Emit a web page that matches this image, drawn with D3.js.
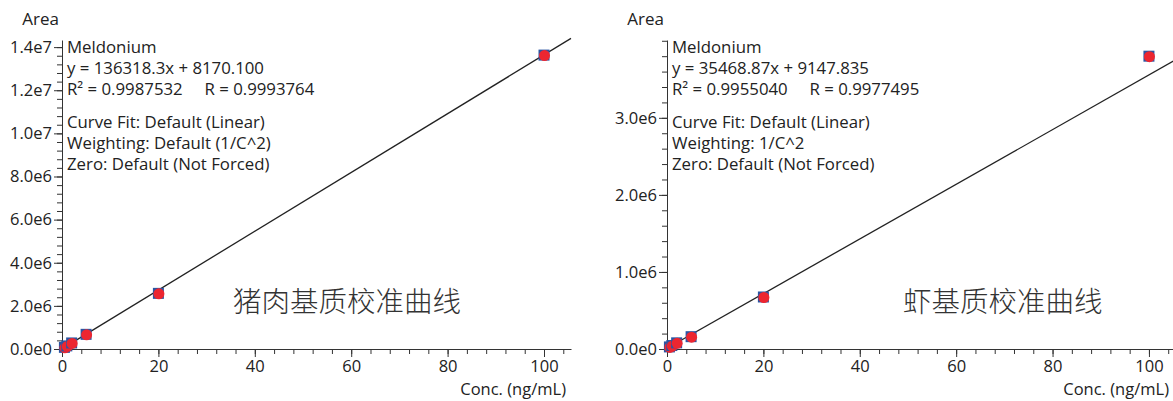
<!DOCTYPE html>
<html>
<head>
<meta charset="utf-8">
<script src="https://cdn.jsdelivr.net/npm/d3@7"></script>
<style>
  body { margin: 0; background: #fff; }
  svg { display: block; }
  .axis path, .axis line { stroke: #333; }
  .axis text { font-family: "Segoe UI", "Open Sans", sans-serif; font-size: 16.5px; fill: #222; }
</style>
</head>
<body>
<div id="chart"></div>
<script>
// calibration levels (ng/mL) and peak areas
const concLevels = [0.5, 1, 2, 5, 20, 100]
const porkArea = [76000, 144000, 281000, 680000, 2580000, 13630000]
const shrimpArea = [27000, 45000, 80000, 160000, 675000, 3800000]

// fitted lines: slope, intercept
const porkFit = [136318.3, 8170.100]
const shrimpFit = [35468.87, 9147.835]

// axis ticks
const xTicks = [0, 20, 40, 60, 80, 100]
const porkYTicks = [0, 2e6, 4e6, 6e6, 8e6, 1e7, 1.2e7, 1.4e7]
const porkYLabels = ["0.0e0", "2.0e6", "4.0e6", "6.0e6", "8.0e6", "1.0e7", "1.2e7", "1.4e7"]
const shrimpYTicks = [0, 1e6, 2e6, 3e6]
const shrimpYLabels = ["0.0e0", "1.0e6", "2.0e6", "3.0e6"]

// annotation text
const porkNotes = ["Meldonium", "y = 136318.3x + 8170.100", "R\u00b2 = 0.9987532     R = 0.9993764",
  "Curve Fit: Default (Linear)", "Weighting: Default (1/C^2)", "Zero: Default (Not Forced)"]
const shrimpNotes = ["Meldonium", "y = 35468.87x + 9147.835", "R\u00b2 = 0.9955040     R = 0.9977495",
  "Curve Fit: Default (Linear)", "Weighting: 1/C^2", "Zero: Default (Not Forced)"]

const width = 1173
const height = 401

const svg = d3.select("#chart")
  .append("svg")
  .attr("width", width)
  .attr("height", height)

function drawPanel(opt) {
  const g = svg.append("g")

  const x = d3.scaleLinear().domain([0, opt.xMax]).range([opt.left, opt.right])
  const y = d3.scaleLinear().domain([0, opt.yMax]).range([349, 40])

  // minor ticks first
  g.append("g").attr("class", "axis")
    .attr("transform", "translate(0,349)")
    .call(d3.axisBottom(x).tickValues(d3.range(0, opt.xMax, 4)).tickSize(5).tickFormat("").tickSizeOuter(0))
  g.append("g").attr("class", "axis")
    .attr("transform", "translate(" + opt.left + ",0)")
    .call(d3.axisLeft(y).tickValues(d3.range(0, opt.yMax + 1, opt.yMinor)).tickSize(5).tickFormat("").tickSizeOuter(0))

  // major ticks with labels
  g.append("g").attr("class", "axis")
    .attr("transform", "translate(0,349)")
    .call(d3.axisBottom(x).tickValues(xTicks).tickSize(8).tickPadding(3).tickSizeOuter(0))
    .select(".domain").remove()
  g.append("g").attr("class", "axis")
    .attr("transform", "translate(" + opt.left + ",0)")
    .call(d3.axisLeft(y).tickValues(opt.yTicks).tickSize(8).tickPadding(2)
      .tickFormat((d, i) => opt.yLabels[i]).tickSizeOuter(0))
    .select(".domain").remove()

  // axis titles
  g.append("text")
    .attr("x", opt.left - 3).attr("y", 25)
    .attr("text-anchor", "end")
    .attr("font-family", "'Segoe UI', 'Open Sans', sans-serif")
    .attr("font-size", 17).attr("fill", "#222")
    .text("Area")
  g.append("text")
    .attr("x", opt.right - 5).attr("y", 395)
    .attr("text-anchor", "end")
    .attr("font-family", "'Segoe UI', 'Open Sans', sans-serif")
    .attr("font-size", 16.5).attr("fill", "#222")
    .text("Conc. (ng/mL)")

  // fitted line
  g.append("line")
    .attr("x1", x(0)).attr("y1", y(opt.fit[1]))
    .attr("x2", x(opt.xMax)).attr("y2", y(opt.fit[0] * opt.xMax + opt.fit[1]))
    .attr("stroke", "#222").attr("stroke-width", 1.3)

  // points: blue square under red dot
  const pts = g.append("g").selectAll("g")
    .data(concLevels.map((c, i) => ({ c: c, a: opt.area[i] })))
    .enter().append("g")
  pts.append("rect")
    .attr("x", d => x(d.c) - 5.5).attr("y", d => y(d.a) - 5.5)
    .attr("width", 11).attr("height", 11)
    .attr("fill", "#2b55a3")
  pts.append("circle")
    .attr("cx", d => x(d.c) + 0.5).attr("cy", d => y(d.a) + 0.5)
    .attr("r", 5.5)
    .attr("fill", "#ec2630")

  // annotation block
  const lineY = [47, 68, 89, 122, 143, 164]
  g.append("g").selectAll("text")
    .data(opt.notes)
    .enter().append("text")
    .attr("x", opt.left + 5)
    .attr("y", (d, i) => lineY[i] + 6)
    .attr("font-family", "'Segoe UI', 'Open Sans', sans-serif")
    .attr("font-size", 16.8).attr("fill", "#222")
    .attr("xml:space", "preserve")
    .style("white-space", "pre")
    .text(d => d)

  // chinese caption
  g.append("text")
    .attr("x", opt.capX).attr("y", 312)
    .attr("font-family", "'Noto Sans CJK SC', sans-serif")
    .attr("font-weight", 300)
    .attr("font-size", 28.5).attr("fill", "#333")
    .text(opt.caption)
}

drawPanel({
  left: 62, right: 571, xMax: 105.6,
  yMax: 14.33e6, yMinor: 4e5,
  yTicks: porkYTicks, yLabels: porkYLabels,
  area: porkArea, fit: porkFit, notes: porkNotes,
  caption: "猪肉基质校准曲线", capX: 233
})

drawPanel({
  left: 667, right: 1174, xMax: 105.2,
  yMax: 4.01e6, yMinor: 2e5,
  yTicks: shrimpYTicks, yLabels: shrimpYLabels,
  area: shrimpArea, fit: shrimpFit, notes: shrimpNotes,
  caption: "虾基质校准曲线", capX: 903
})
</script>
</body>
</html>
